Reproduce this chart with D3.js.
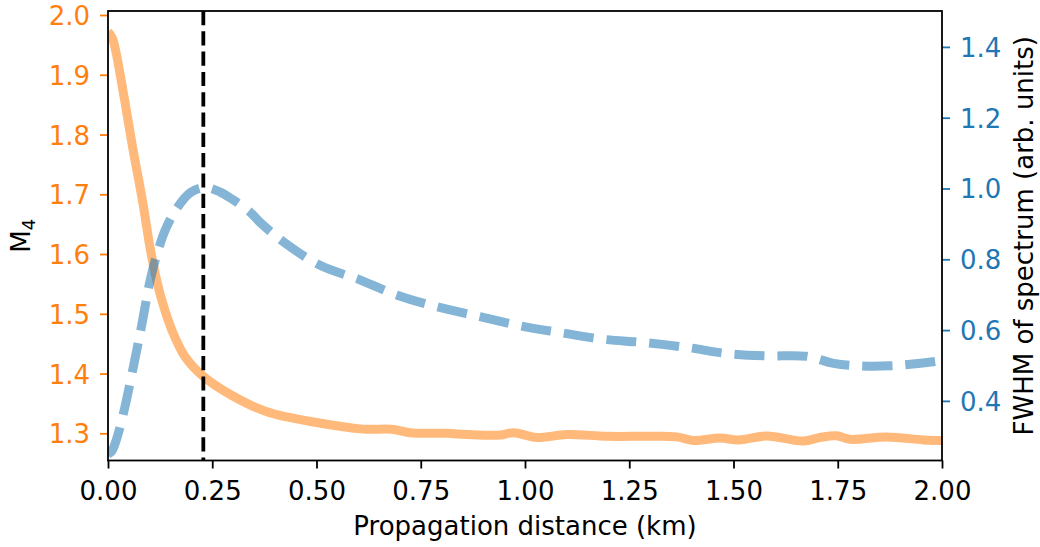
<!DOCTYPE html>
<html>
<head>
<meta charset="utf-8">
<script src="https://cdn.jsdelivr.net/npm/d3@7"></script>
<style>
  html, body { margin: 0; padding: 0; background: #fff; }
  svg { display: block; font-family: "DejaVu Sans", sans-serif; }
</style>
</head>
<body>
<svg id="chart" width="1040" height="547"></svg>
<script>
// ---- data ----
const m4Dist = [0.000, 0.010, 0.020, 0.030, 0.040, 0.060, 0.083, 0.101, 0.113, 0.129, 0.153, 0.185, 0.229, 0.293, 0.381, 0.500, 0.612, 0.680, 0.724, 0.812, 0.860, 0.940, 0.972, 1.028, 1.100, 1.196, 1.300, 1.364, 1.404, 1.468, 1.512, 1.580, 1.667, 1.707, 1.747, 1.779, 1.867, 1.955, 2.000];
const m4Vals = [1.972, 1.962, 1.935, 1.897, 1.857, 1.775, 1.688, 1.610, 1.568, 1.523, 1.473, 1.428, 1.395, 1.365, 1.336, 1.318, 1.307, 1.3067, 1.301, 1.300, 1.298, 1.297, 1.301, 1.293, 1.298, 1.295, 1.295, 1.294, 1.288, 1.292, 1.289, 1.2955, 1.287, 1.293, 1.296, 1.290, 1.294, 1.289, 1.288];

const fwhmDist = [0.000, 0.009, 0.020, 0.037, 0.061, 0.081, 0.101, 0.120, 0.140, 0.165, 0.197, 0.233, 0.269, 0.300, 0.340, 0.364, 0.420, 0.507, 0.604, 0.692, 0.788, 0.892, 0.988, 1.084, 1.188, 1.284, 1.388, 1.483, 1.579, 1.675, 1.740, 1.800, 1.875, 1.930, 1.995, 2.000];
const fwhmVals = [0.250, 0.258, 0.290, 0.365, 0.497, 0.615, 0.740, 0.825, 0.890, 0.944, 0.988, 1.003, 0.990, 0.968, 0.934, 0.905, 0.850, 0.784, 0.742, 0.699, 0.666, 0.638, 0.612, 0.593, 0.574, 0.565, 0.551, 0.534, 0.527, 0.526, 0.506, 0.499, 0.499, 0.504, 0.513, 0.514];

const peakDist = 0.2286;

const xTicks = [0, 0.25, 0.5, 0.75, 1.0, 1.25, 1.5, 1.75, 2.0];
const xTickLabels = ["0.00", "0.25", "0.50", "0.75", "1.00", "1.25", "1.50", "1.75", "2.00"];
const leftTicks = [1.3, 1.4, 1.5, 1.6, 1.7, 1.8, 1.9, 2.0];
const rightTicks = [0.4, 0.6, 0.8, 1.0, 1.2, 1.4];

// ---- layout ----
const L = 108, R = 942, T = 11, B = 460.5;
const fs = 26;
const orange = "#ff7f0e", blue = "#1f77b4";

const svg = d3.select("#chart");
const x = d3.scaleLinear().domain([0, 2]).range([L, R]);
const yL = d3.scaleLinear().domain([1.2545, 2.0067]).range([B, T]);
const yR = d3.scaleLinear().domain([0.2316, 1.5014]).range([B, T]);

svg.append("defs").append("clipPath").attr("id", "clip")
  .append("rect").attr("x", L).attr("y", T).attr("width", R - L).attr("height", B - T);

const plot = svg.append("g").attr("clip-path", "url(#clip)");

const m4Data = m4Dist.map((d, i) => [d, m4Vals[i]]);
const fwData = fwhmDist.map((d, i) => [d, fwhmVals[i]]);

plot.append("path")
  .attr("d", d3.line().x(d => x(d[0])).y(d => yL(d[1])).curve(d3.curveCatmullRom.alpha(0.5))(m4Data))
  .attr("fill", "none").attr("stroke", orange).attr("stroke-opacity", 0.55)
  .attr("stroke-width", 9).attr("stroke-linejoin", "round");

plot.append("path")
  .attr("d", d3.line().x(d => x(d[0])).y(d => yR(d[1])).curve(d3.curveCatmullRom.alpha(0.5))(fwData))
  .attr("fill", "none").attr("stroke", blue).attr("stroke-opacity", 0.55)
  .attr("stroke-width", 9).attr("stroke-dasharray", "30,13");

plot.append("line")
  .attr("x1", x(peakDist)).attr("x2", x(peakDist)).attr("y1", T).attr("y2", B)
  .attr("stroke", "#000").attr("stroke-width", 3.8).attr("stroke-dasharray", "14.2,6.1");

// ---- axes ----
const xAxis = d3.axisBottom(x).tickValues(xTicks)
  .tickFormat((d, i) => xTickLabels[i]).tickSize(8).tickPadding(8);
const gx = svg.append("g").attr("transform", `translate(0,${B})`).call(xAxis);
gx.select(".domain").remove();
gx.selectAll(".tick line").attr("stroke", "#000").attr("stroke-width", 1.8);
gx.selectAll(".tick text").attr("font-size", fs).attr("font-family", "DejaVu Sans")
  .attr("fill", "#000").attr("dy", null).attr("y", 39.5);

const lAxis = d3.axisLeft(yL).tickValues(leftTicks).tickFormat(d3.format(".1f")).tickSize(8).tickPadding(8);
const gl = svg.append("g").attr("transform", `translate(${L},0)`).call(lAxis);
gl.select(".domain").remove();
gl.selectAll(".tick line").attr("stroke", orange).attr("stroke-width", 1.8);
gl.selectAll(".tick text").attr("font-size", fs).attr("font-family", "DejaVu Sans")
  .attr("fill", orange).attr("dy", null).attr("y", 9.5).attr("x", -18);

const rAxis = d3.axisRight(yR).tickValues(rightTicks).tickFormat(d3.format(".1f")).tickSize(8).tickPadding(8);
const gr = svg.append("g").attr("transform", `translate(${R},0)`).call(rAxis);
gr.select(".domain").remove();
gr.selectAll(".tick line").attr("stroke", blue).attr("stroke-width", 1.8);
gr.selectAll(".tick text").attr("font-size", fs).attr("font-family", "DejaVu Sans")
  .attr("fill", blue).attr("dy", null).attr("y", 9.5).attr("x", 18);

// spines
svg.append("rect").attr("x", L).attr("y", T).attr("width", R - L).attr("height", B - T)
  .attr("fill", "none").attr("stroke", "#000").attr("stroke-width", 1.8);

// labels
svg.append("text").attr("x", (L + R) / 2).attr("y", 535).attr("text-anchor", "middle")
  .attr("font-size", fs).attr("fill", "#000").text("Propagation distance (km)");

const ml = svg.append("text").attr("transform", `translate(30,${(T + B) / 2}) rotate(-90)`)
  .attr("text-anchor", "middle").attr("font-size", fs).attr("fill", "#000");
ml.append("tspan").text("M");
ml.append("tspan").attr("font-size", 18).attr("dy", 5).text("4");

svg.append("text").attr("transform", `translate(1033,${(T + B) / 2}) rotate(-90)`)
  .attr("text-anchor", "middle").attr("font-size", fs).attr("fill", "#000")
  .text("FWHM of spectrum (arb. units)");
</script>
</body>
</html>
